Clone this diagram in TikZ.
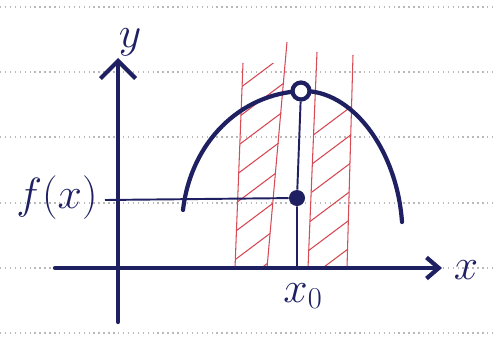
\documentclass[tikz,border=0pt]{standalone}
\usetikzlibrary{arrows.meta}

\definecolor{ink}{RGB}{30,32,98}
\definecolor{redpen}{RGB}{214,74,84}

\begin{document}
\begin{tikzpicture}[
    x=0.02cm, y=-0.02cm,
    inkline/.style={draw=ink, line width=2.4pt, line cap=round},
    thinink/.style={draw=ink, line width=1.1pt},
    strip/.style={draw=redpen, line width=0.6pt},
    rule/.style={draw=gray!55, dotted, line width=0.8pt},
    lbl/.style={text=ink, font=\fontsize{26}{28}\selectfont, inner sep=0pt},
    fulldot/.style={circle, fill=ink, minimum size=16*0.02cm, inner sep=0pt},
    opendot/.style={circle, draw=ink, line width=2.4pt, fill=white, minimum size=17*0.02cm, inner sep=0pt}
]
    \useasboundingbox (0,0) rectangle (493,338);

    % ruled paper
    \foreach \yy in {7,72,137,203,268,333}
        \draw[rule] (0,\yy) -- (493,\yy);

    % hatched strips
    \begin{scope}
        \clip (243,63) -- (286,63) -- (267,268) -- (235,268) -- cycle;
        \foreach \c in {90,118,...,480}
            \draw[strip] (200,\c) -- ++(220,-165);
    \end{scope}
    \begin{scope}
        \clip (317,60) -- (353,60) -- (347,268) -- (308,268) -- cycle;
        \foreach \c in {160,188,...,560}
            \draw[strip] (280,\c) -- ++(220,-165);
    \end{scope}
    \draw[strip] (243,63) -- (235,268);
    \draw[strip] (287,42) -- (267,268);
    \draw[strip] (317,52) -- (308,268);
    \draw[strip] (353,55) -- (347,268);

    % axes
    \coordinate (xstart) at (55,268);
    \coordinate (xend) at (442,268);
    \coordinate (ybot) at (118,322);
    \coordinate (ytop) at (118,58);
    \draw[inkline, -{Straight Barb[length=7pt, width=12pt, line width=2.4pt]}] (xstart) -- (xend);
    \draw[inkline, -{Straight Barb[length=10pt, width=20pt, line width=2.4pt]}] (ybot) -- (ytop);

    \node[lbl] (ylab) at (130,42) {$y$};
    \node[lbl] (xlab) at (466,270) {$x$};
    \node[lbl] (fxlab) at (57,198) {$f(x)$};
    \node[lbl] (x0lab) at (303,296) {$x_0$};

    % curve
    \coordinate (cstart) at (183,210);
    \coordinate (peak) at (301,91);
    \coordinate (cend) at (402,222);
    \draw[inkline] (cstart) .. controls (191,142) and (240,94) .. (peak)
        .. controls (352,89) and (397,150) .. (cend);

    % point and its value
    \coordinate (x0) at (297,268);
    \coordinate (fxstart) at (105,200);
    \node[fulldot] (fx0) at (297,198) {};
    \node[opendot] (top) at (peak) {};
    \draw[thinink] (fxstart) -- (fx0);
    \draw[thinink] (x0) -- (fx0) -- (top);
\end{tikzpicture}
\end{document}
